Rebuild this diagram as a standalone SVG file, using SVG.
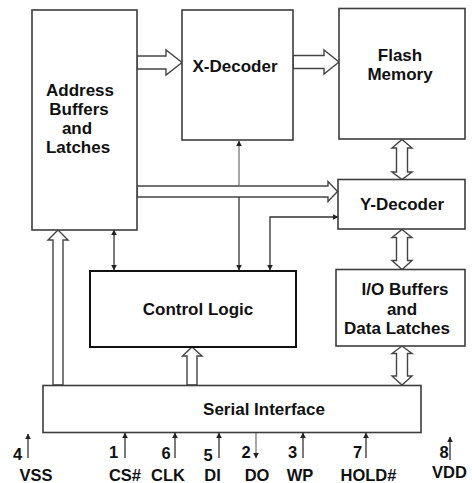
<svg xmlns="http://www.w3.org/2000/svg" width="472" height="483" viewBox="0 0 472 483">
<style>
.box{fill:#fff;stroke:#3c3c3c;stroke-width:1.6}
.cl{fill:#fff;stroke:#111;stroke-width:2}
.lbl{font-family:"Liberation Sans",Arial,sans-serif;font-weight:bold;font-size:17px;fill:#111;text-anchor:middle}
.pin{font-family:"Liberation Sans",Arial,sans-serif;font-weight:bold;font-size:16.5px;fill:#111;text-anchor:middle}
.hol{fill:#fff;stroke:#444;stroke-width:1.4;stroke-linejoin:miter}
.ln{fill:none;stroke:#333;stroke-width:1.3}
.lg{fill:none;stroke:#777;stroke-width:1.3}
</style>
<defs>
<marker id="ah" viewBox="0 0 10 10" refX="9" refY="5" markerWidth="6" markerHeight="6" markerUnits="userSpaceOnUse" orient="auto-start-reverse">
<path d="M0,0 L10,5 L0,10 z" fill="#222"/>
</marker>
</defs>
<rect width="472" height="483" fill="#fff"/>

<g id="connectors">
<!-- Address -> X-Decoder -->
<polygon class="hol" points="137,56 166,56 166,50 182,62.5 166,75 166,69 137,69"/>
<!-- X-Decoder -> Flash -->
<polygon class="hol" points="293,55.5 324,55.5 324,50 339,62 324,74 324,68.5 293,68.5"/>
<!-- Address -> Y-Decoder -->
<polygon class="hol" points="137,186 328,186 328,181.5 337.5,191.5 328,201.5 328,197 137,197"/>
<!-- bus to X-Decoder -->
<line class="lg" x1="239" y1="186" x2="239" y2="141" marker-end="url(#ah)"/>
<!-- bus to Control Logic -->
<line class="ln" x1="239" y1="197" x2="239" y2="270" marker-end="url(#ah)"/>
<!-- Control Logic <-> Y-Decoder -->
<polyline class="ln" points="270,270 270,217 338,217" marker-start="url(#ah)" marker-end="url(#ah)"/>
<!-- Address <-> Control -->
<line class="ln" x1="114" y1="230" x2="114" y2="270" marker-start="url(#ah)" marker-end="url(#ah)"/>
<!-- Serial -> Address -->
<polygon class="hol" points="53,385 53,240 48,240 58,230 68,240 63,240 63,385"/>
<!-- Serial -> Control -->
<polygon class="hol" points="187,385 187,356 182.5,356 192,347 202,356 197,356 197,385"/>
<!-- Flash <-> Y-Decoder -->
<polygon class="hol" points="402,139.5 412,148 407.5,148 407.5,172 412,172 402,179.5 392,172 396.5,172 396.5,148 392,148"/>
<!-- Y-Decoder <-> I/O -->
<polygon class="hol" points="402,229.5 412,237.5 407.5,237.5 407.5,260.5 412,260.5 402,269.5 392,260.5 396.5,260.5 396.5,237.5 392,237.5"/>
<!-- I/O <-> Serial -->
<polygon class="hol" points="402,346 412,353.5 407.5,353.5 407.5,376 412,376 402,385 392,376 396.5,376 396.5,353.5 392,353.5"/>
<!-- pins -->
<line class="ln" x1="28" y1="458" x2="28" y2="434" marker-end="url(#ah)"/>
<line class="ln" x1="125" y1="458" x2="125" y2="433" marker-end="url(#ah)"/>
<line class="ln" x1="175" y1="458" x2="175" y2="433" marker-end="url(#ah)"/>
<line class="ln" x1="219" y1="458" x2="219" y2="433" marker-end="url(#ah)"/>
<line class="lg" x1="256" y1="433" x2="256" y2="458" marker-end="url(#ah)"/>
<line class="ln" x1="303" y1="458" x2="303" y2="433" marker-end="url(#ah)"/>
<line class="ln" x1="366" y1="458" x2="366" y2="433" marker-end="url(#ah)"/>
<line class="ln" x1="450" y1="460" x2="450" y2="437" marker-end="url(#ah)"/>
</g>

<g id="address">
<rect class="box" x="32" y="10" width="105" height="220"/>
<text class="lbl" x="80" y="96">Address</text>
<text class="lbl" x="79" y="115">Buffers</text>
<text class="lbl" x="77" y="134">and</text>
<text class="lbl" x="78" y="153">Latches</text>
</g>
<g id="xdecoder">
<rect class="box" x="182" y="10" width="111" height="130"/>
<text class="lbl" x="235" y="72">X-Decoder</text>
</g>
<g id="flash">
<rect class="box" x="339" y="8.5" width="126" height="130.5"/>
<text class="lbl" x="400" y="61">Flash</text>
<text class="lbl" x="400" y="80">Memory</text>
</g>
<g id="ydecoder">
<rect class="box" x="338" y="179.5" width="127" height="49.5"/>
<text class="lbl" x="402" y="210">Y-Decoder</text>
</g>
<g id="io">
<rect class="box" x="336" y="269.5" width="129" height="76.5"/>
<text class="lbl" x="405" y="295">I/O Buffers</text>
<text class="lbl" x="402" y="315">and</text>
<text class="lbl" x="397" y="334">Data Latches</text>
</g>
<g id="control">
<rect class="cl" x="90" y="271" width="206" height="76"/>
<text class="lbl" x="198" y="315">Control Logic</text>
</g>
<g id="serial">
<rect class="box" x="43" y="385.5" width="378" height="47"/>
<text class="lbl" x="264" y="415">Serial Interface</text>
</g>

<g id="pinlabels">
<text class="pin" x="17.5" y="460">4</text>
<text class="pin" x="36" y="481">VSS</text>
<text class="pin" x="113.5" y="458">1</text>
<text class="pin" x="125" y="481">CS#</text>
<text class="pin" x="166" y="459">6</text>
<text class="pin" x="168" y="481">CLK</text>
<text class="pin" x="208" y="461">5</text>
<text class="pin" x="212.5" y="481">DI</text>
<text class="pin" x="246" y="458">2</text>
<text class="pin" x="257" y="481">DO</text>
<text class="pin" x="292.5" y="458">3</text>
<text class="pin" x="300" y="481">WP</text>
<text class="pin" x="357.5" y="458">7</text>
<text class="pin" x="368.5" y="481">HOLD#</text>
<text class="pin" x="444" y="458">8</text>
<text class="pin" x="449.5" y="478">VDD</text>
</g>
</svg>
